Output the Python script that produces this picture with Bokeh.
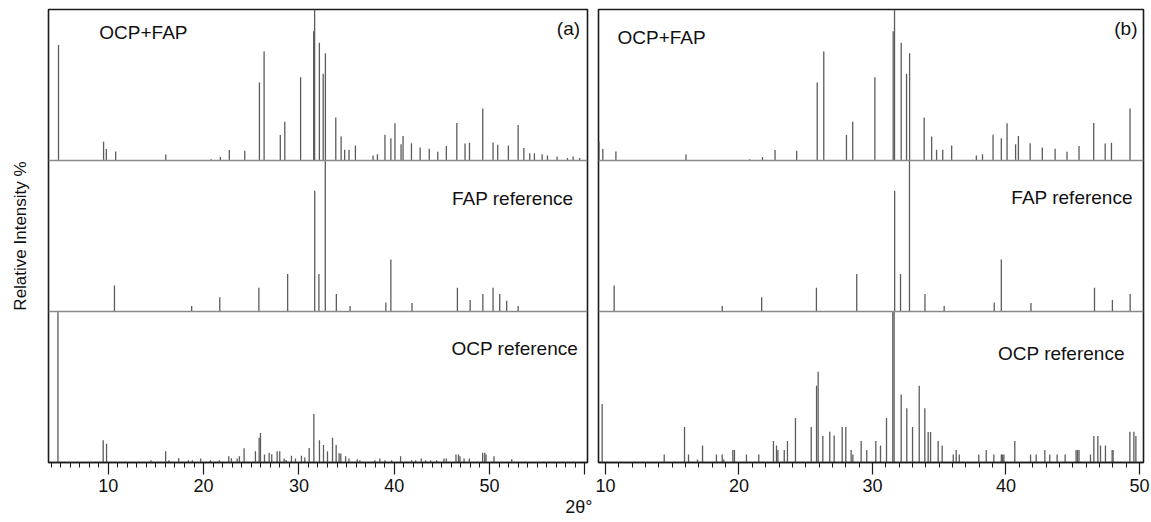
from bokeh.plotting import figure
from bokeh.models import Range1d, FixedTicker, Span, Label, ColumnDataSource, Title
from bokeh.layouts import row
from bokeh.embed import file_html
from bokeh.resources import INLINE

# ---------------- data (2theta in degrees, relative intensity %) ----------------
ocp_fap_2theta = [4.78, 9.51, 9.80, 10.78, 16.03, 20.80, 21.76, 22.70, 24.32, 25.86,
                  26.35, 28.05, 28.52, 30.18, 31.55, 31.65, 32.15, 32.55, 32.78, 33.87,
                  34.43, 34.80, 35.26, 35.93, 37.78, 38.24, 39.03, 39.65, 40.08, 40.72,
                  40.93, 41.81, 42.72, 43.68, 44.57, 45.47, 46.57, 47.43, 47.90, 49.29,
                  50.37, 50.86, 51.98, 53.00, 53.60, 54.22, 54.71, 55.52, 56.08, 57.09,
                  58.18, 58.77, 59.45]
ocp_fap_int = [76.5, 12.4, 7.6, 5.9, 3.9, 0.9, 2.4, 7.0, 6.5, 51.6,
               72.2, 16.9, 25.7, 55.2, 85.6, 100.0, 77.9, 57.5, 71.0, 28.4,
               15.9, 7.2, 7.2, 10.0, 3.3, 4.1, 17.0, 14.8, 24.7, 10.7,
               16.3, 11.5, 8.6, 7.8, 5.8, 9.6, 24.8, 11.3, 11.7, 34.4,
               12.0, 10.5, 10.0, 23.5, 8.3, 4.8, 4.8, 4.1, 3.3, 2.6,
               1.7, 2.6, 1.7]

fap_2theta = [10.65, 18.75, 21.70, 25.80, 28.82, 31.66, 32.10, 32.77, 33.93, 35.37,
              39.12, 39.65, 41.87, 46.63, 47.97, 49.30, 50.37, 51.07, 51.80, 53.00]
fap_int = [17.3, 3.6, 9.4, 15.8, 24.8, 80.0, 24.8, 100.0, 11.6, 3.6,
           5.9, 34.4, 5.7, 15.8, 7.6, 11.6, 15.8, 11.6, 7.2, 3.7]

# OCP reference, panel (a) (normalised over 4-60 deg)
ocp_a_2theta = [4.72, 9.47, 9.82, 14.48, 16.02, 16.37, 17.39, 18.40, 18.82, 19.70,
                20.71, 21.66, 22.64, 22.92, 23.52, 23.76, 24.25, 25.44, 25.83, 25.97,
                26.39, 26.88, 27.15, 27.72, 27.99, 28.45, 28.66, 29.22, 29.64, 30.27,
                30.62, 31.08, 31.57, 32.16, 32.58, 33.00, 33.53, 33.91, 34.22, 34.40,
                34.90, 35.25, 36.13, 36.40, 37.97, 38.50, 39.03, 39.73, 40.67, 41.83,
                42.25, 42.84, 43.30, 43.82, 44.45, 45.22, 45.47, 46.48, 46.74, 46.90,
                47.33, 47.88, 49.28, 49.50, 49.63, 50.47, 52.33]
ocp_a_int = [100.0, 14.7, 12.5, 1.5, 7.5, 1.5, 3.0, 1.5, 1.5, 2.6,
             1.5, 1.5, 4.2, 2.8, 2.6, 4.2, 9.4, 7.5, 16.4, 19.5,
             5.3, 6.4, 5.5, 7.5, 7.5, 2.6, 1.7, 4.4, 2.6, 4.4,
             3.3, 9.6, 32.2, 14.7, 11.6, 7.5, 16.4, 11.6, 6.2, 6.0,
             4.2, 2.6, 2.2, 1.5, 1.5, 2.6, 1.5, 1.5, 4.2, 1.5,
             1.5, 2.6, 1.5, 1.5, 1.5, 2.6, 2.6, 5.3, 5.3, 4.2,
             2.6, 2.6, 6.4, 6.4, 5.3, 4.2, 2.2]

# OCP reference, panel (b) (normalised over 10-50 deg)
ocp_b_2theta = [9.75, 14.40, 15.92, 16.22, 16.89, 17.27, 18.31, 18.74, 18.86, 19.54,
                19.66, 20.56, 21.48, 22.58, 22.81, 22.91, 23.39, 23.63, 24.23, 25.41,
                25.81, 25.93, 26.28, 26.80, 27.13, 27.73, 28.00, 28.40, 28.53, 29.15,
                29.57, 30.25, 30.60, 31.05, 31.52, 31.62, 32.15, 32.57, 33.00, 33.50,
                33.92, 34.17, 34.35, 34.92, 35.22, 36.05, 36.27, 36.50, 37.96, 38.52,
                39.09, 39.65, 39.74, 39.84, 40.66, 41.84, 42.26, 42.91, 43.28, 43.83,
                44.43, 45.25, 45.36, 45.47, 46.33, 46.58, 46.88, 47.08, 47.45, 47.95,
                48.02, 49.28, 49.58, 49.73]
ocp_b_int = [38.8, 5.3, 23.5, 5.3, 2.0, 11.2, 5.3, 5.3, 2.0, 8.3,
             8.3, 5.3, 5.3, 14.3, 11.2, 8.3, 8.3, 14.3, 29.4, 23.5,
             50.9, 60.1, 17.5, 20.4, 17.8, 23.5, 23.5, 8.3, 5.3, 14.3,
             8.3, 14.3, 11.2, 29.4, 100.0, 100.0, 45.0, 36.0, 23.5, 50.9,
             36.0, 20.2, 20.2, 14.3, 11.2, 5.3, 8.3, 5.3, 5.3, 8.3,
             5.3, 5.3, 5.3, 5.3, 14.3, 5.3, 5.3, 8.3, 5.3, 5.3,
             5.3, 8.3, 8.3, 8.3, 5.3, 17.5, 17.5, 11.2, 11.2, 8.3,
             8.3, 20.4, 20.4, 17.5]

panel_names = ["OCP+FAP", "FAP reference", "OCP reference"]
panel_tags = ["(a)", "(b)"]
ticks_a = [10, 20, 30, 40, 50, 60]
ticks_b = [10, 20, 30, 40, 50]
x_title = "2θ°"
y_title = "Relative Intensity %"

# ---------------- styling ----------------
FONT = "Liberation Sans"
PEAK = "#5c5c5c"
SEP = "#8a8a8a"
INK = "#1a1a1a"
FRAME_H = 453


def make_panel(x0, x1, frame_w, bl, br, major, minor, overrides, series):
    p = figure(frame_width=frame_w, frame_height=FRAME_H,
               x_range=Range1d(x0, x1), y_range=Range1d(0, 300),
               output_backend="svg", toolbar_location=None,
               min_border_left=bl, min_border_right=br,
               min_border_top=9, min_border_bottom=0)
    p.grid.visible = False
    p.outline_line_color = INK
    p.outline_line_width = 1.6
    p.background_fill_color = "white"
    p.border_fill_color = "white"

    for offset, xs, ys in series:
        src = ColumnDataSource(dict(x=xs, y0=[offset] * len(xs),
                                    y1=[offset + v for v in ys]))
        p.segment(x0="x", y0="y0", x1="x", y1="y1", source=src,
                  line_color=PEAK, line_width=1.3)

    for loc in (100, 200):
        p.add_layout(Span(location=loc, dimension="width",
                          line_color=SEP, line_width=1.3))

    xa = p.xaxis[0]
    xa.ticker = FixedTicker(ticks=major, minor_ticks=minor)
    xa.major_label_overrides = overrides
    xa.major_tick_out = 12
    xa.major_tick_in = 0
    xa.minor_tick_out = 5
    xa.minor_tick_in = 0
    xa.major_tick_line_color = INK
    xa.minor_tick_line_color = INK
    xa.major_tick_line_width = 1.2
    xa.minor_tick_line_width = 1.0
    xa.axis_line_color = INK
    xa.axis_line_width = 1.6
    xa.major_label_text_font = FONT
    xa.major_label_text_font_size = "18px"
    xa.major_label_text_color = "#111111"
    xa.major_label_standoff = 4
    return p


# panel (a)
pa = make_panel(3.73, 60.28, 539, 48, 5, ticks_a, list(range(4, 61)), {60: ""},
                [(200, ocp_fap_2theta, ocp_fap_int),
                 (100, fap_2theta, fap_int),
                 (0, ocp_a_2theta, ocp_a_int)])
ya = pa.yaxis[0]
ya.ticker = FixedTicker(ticks=[])
ya.major_tick_out = 0
ya.minor_tick_out = 0
ya.major_label_standoff = 0
ya.axis_line_color = None
ya.axis_label = y_title
ya.axis_label_text_font = FONT
ya.axis_label_text_font_size = "17px"
ya.axis_label_text_font_style = "normal"
ya.axis_label_text_color = "#111111"
ya.axis_label_standoff = 19

pa.add_layout(Title(text=x_title, align="right", offset=-5, standoff=0,
                    text_font=FONT, text_font_size="18px", text_font_style="normal",
                    text_color="#111111"), "below")

# panel (b)
pb = make_panel(9.476, 50.30, 545, 6, 8, ticks_b, list(range(10, 51)), {},
                [(200, ocp_fap_2theta, ocp_fap_int),
                 (100, fap_2theta, fap_int),
                 (0, ocp_b_2theta, ocp_b_int)])
pb.yaxis.visible = False

# texts
def txt(p, x, y, t, align, size="19px"):
    p.add_layout(Label(x=x, y=y, text=t, text_align=align, text_baseline="middle",
                       text_font=FONT, text_font_size=size, text_color="#111111"))

txt(pa, 9.06, 284.8, panel_names[0], "left")
txt(pa, 58.8, 174.7, panel_names[1], "right")
txt(pa, 59.3, 75.2, panel_names[2], "right")
txt(pa, 59.5, 287.5, panel_tags[0], "right")

txt(pb, 10.9, 281.5, panel_names[0], "left")
txt(pb, 49.5, 175.4, panel_names[1], "right")
txt(pb, 48.9, 71.9, panel_names[2], "right")
txt(pb, 49.85, 287.5, panel_tags[1], "right")

layout = row(pa, pb)
open("out.html", "w").write(file_html(layout, INLINE))
